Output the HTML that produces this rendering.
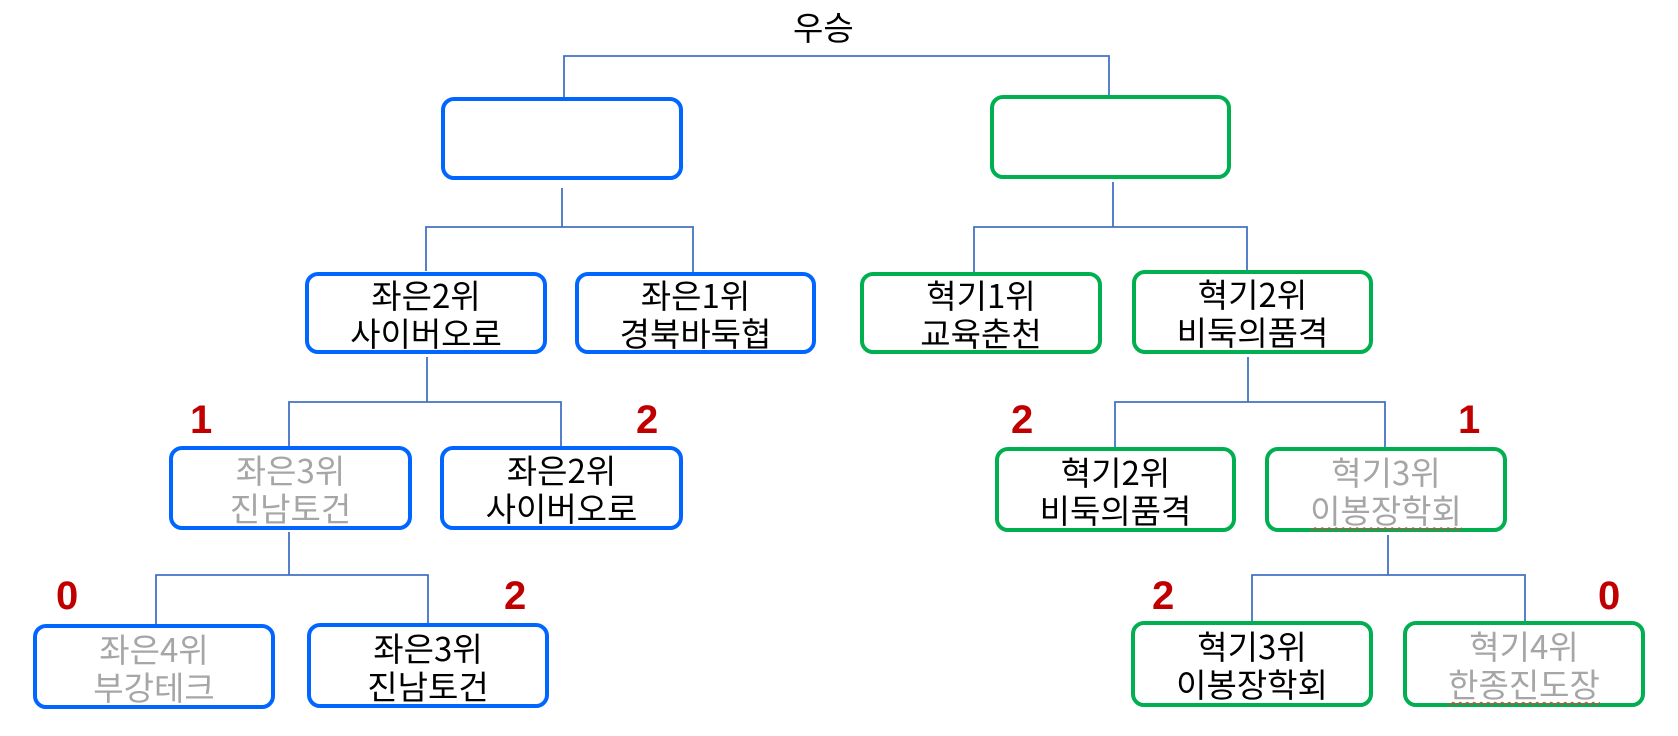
<!DOCTYPE html>
<html><head><meta charset="utf-8"><style>
body{margin:0;width:1678px;height:736px;background:#fff;position:relative;overflow:hidden;font-family:"Noto Sans CJK KR","Liberation Sans",sans-serif}
.b{position:absolute;box-sizing:border-box;border:4px solid #0066ff;border-radius:13px;display:flex;flex-direction:column;align-items:center;justify-content:center;font-size:33px;line-height:38px;color:#000;text-align:center}
.g{border-color:#00b050}
.gr{color:#a6a6a6}
.r{position:absolute;color:#c00000;font-weight:bold;font-size:40px;line-height:40px;font-family:"Liberation Sans",sans-serif}
.w{text-decoration:underline wavy #e04040 1px;text-underline-offset:4px}
svg{position:absolute;left:0;top:0}
</style></head><body>
<svg width="1678" height="736"><g stroke="#4472c4" stroke-width="1.8" fill="none">
<path d="M564 97V56H1109V95"/>
<path d="M562 188V227M426 271V227H693V272"/>
<path d="M1113 182V227M974 272V227H1247V272"/>
<path d="M427 357V402M289 446V402H561V446"/>
<path d="M1248 357V402M1115 447V402H1385V447"/>
<path d="M289 532V575M156 624V575H428V624"/>
<path d="M1388 535V575M1252 621V575H1525V621"/>
</g></svg>
<div style="position:absolute;left:793px;top:6px;font-size:33px;line-height:40px">우승</div>
<div class="b" style="left:441px;top:97px;width:242px;height:83px"></div>
<div class="b g" style="left:990px;top:95px;width:241px;height:84px"></div>
<div class="b" style="left:305px;top:272px;width:242px;height:82px"><div>좌은2위</div><div>사이버오로</div></div>
<div class="b" style="left:575px;top:272px;width:241px;height:82px"><div>좌은1위</div><div>경북바둑협</div></div>
<div class="b g" style="left:860px;top:272px;width:242px;height:82px"><div>혁기1위</div><div>교육춘천</div></div>
<div class="b g" style="left:1132px;top:270px;width:241px;height:84px"><div>혁기2위</div><div>비둑의품격</div></div>
<div class="b gr" style="left:169px;top:446px;width:243px;height:84px"><div>좌은3위</div><div>진남토건</div></div>
<div class="b" style="left:440px;top:446px;width:243px;height:84px"><div>좌은2위</div><div>사이버오로</div></div>
<div class="b g" style="left:995px;top:447px;width:241px;height:85px"><div>혁기2위</div><div>비둑의품격</div></div>
<div class="b g gr" style="left:1265px;top:447px;width:242px;height:85px"><div>혁기3위</div><div class="w">이봉장학회</div></div>
<div class="b gr" style="left:33px;top:624px;width:242px;height:85px"><div>좌은4위</div><div>부강테크</div></div>
<div class="b" style="left:307px;top:623px;width:242px;height:85px"><div>좌은3위</div><div>진남토건</div></div>
<div class="b g" style="left:1131px;top:621px;width:242px;height:86px"><div>혁기3위</div><div>이봉장학회</div></div>
<div class="b g gr" style="left:1403px;top:621px;width:242px;height:86px"><div>혁기4위</div><div class="w">한종진도장</div></div>
<div class="r" style="left:190px;top:400px">1</div>
<div class="r" style="left:636px;top:400px">2</div>
<div class="r" style="left:1011px;top:400px">2</div>
<div class="r" style="left:1458px;top:400px">1</div>
<div class="r" style="left:56px;top:576px">0</div>
<div class="r" style="left:504px;top:576px">2</div>
<div class="r" style="left:1152px;top:576px">2</div>
<div class="r" style="left:1598px;top:576px">0</div>
</body></html>
